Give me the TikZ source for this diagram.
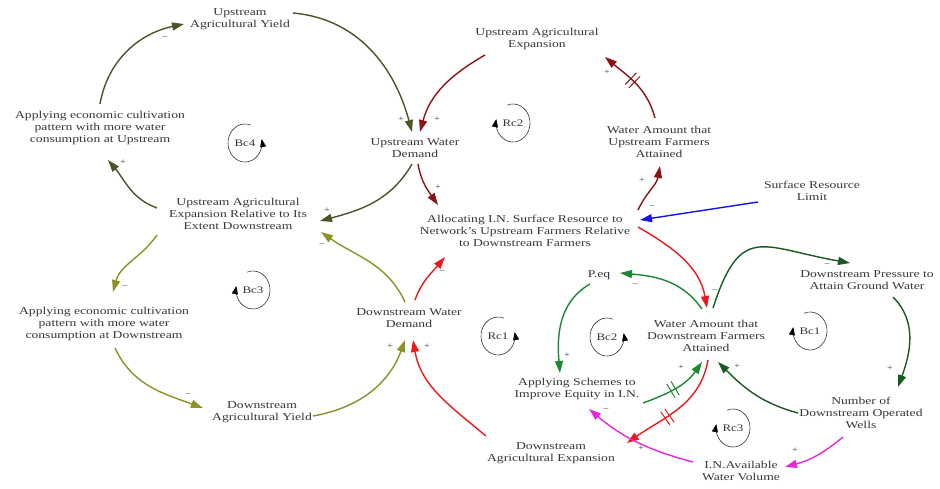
\documentclass[tikz,border=0pt]{standalone}
\usepackage{fontspec}
\setmainfont{Liberation Serif}[FakeStretch=1.3]
\usetikzlibrary{arrows.meta,decorations.markings}
\definecolor{txt}{RGB}{55,55,55}
\definecolor{olivedk}{RGB}{75,85,40}
\definecolor{olivelt}{RGB}{140,145,40}
\definecolor{redDk}{RGB}{140,20,20}
\definecolor{redLt}{RGB}{235,25,25}
\definecolor{grn}{RGB}{30,135,50}
\definecolor{grnDk}{RGB}{25,90,35}
\definecolor{mag}{RGB}{230,40,220}
\definecolor{blu}{RGB}{20,20,230}
\newcommand\lbfont{\fontsize{10.5}{12}\selectfont}
\newcommand\sgfont{\fontsize{8}{9}\selectfont}
\newcommand\lpfont{\fontsize{10}{11}\selectfont}
\tikzset{
  lbl/.style={align=center, font=\lbfont, text=txt, inner sep=1pt},
  lnk/.style={line width=1.4pt, -{Triangle[length=12pt,width=8pt]}},
  sgn/.style={font=\sgfont, text=txt, inner sep=0pt},
  looplbl/.style={font=\lpfont, text=txt, inner sep=0pt},
  loopring/.style={line width=0.6pt, draw=txt, -{Triangle[length=8pt,width=6pt,color=black]}},
  delay/.style n args={2}{postaction={decorate, decoration={markings,
      mark=at position #1 with {\draw[line width=1pt,draw=#2,-] (-2.5pt,-8pt) -- (-2.5pt,8pt) (2.5pt,-8pt) -- (2.5pt,8pt);}}}}
}
\begin{document}
\begin{tikzpicture}[x=1pt,y=1pt]
\fill[white] (0,0) rectangle (940,-488);
\useasboundingbox (0,0) rectangle (940,-488);

% variables
\node[lbl] (UAY)   at (240,-19)  {Upstream\\Agricultural Yield};
\node[lbl] (AEU)   at (100,-128) {Applying economic cultivation\\pattern with more water\\consumption at Upstream};
\node[lbl] (UWD)   at (415,-148) {Upstream Water\\Demand};
\node[lbl] (UAE)   at (537,-39)  {Upstream Agricultural\\Expansion};
\node[lbl] (WAU)   at (659,-142) {Water Amount that\\Upstream Farmers\\Attained};
\node[lbl] (SRL)   at (812,-191) {Surface Resource\\Limit};
\node[lbl] (ALLOC) at (525,-231) {Allocating I.N. Surface Resource to\\Network's Upstream Farmers Relative\\to Downstream Farmers};
\node[lbl] (UAER)  at (238,-214) {Upstream Agricultural\\Expansion Relative to Its\\Extent Downstream};
\node[lbl] (AED)   at (104,-324) {Applying economic cultivation\\pattern with more water\\consumption at Downstream};
\node[lbl] (DWD)   at (409,-318) {Downstream Water\\Demand};
\node[lbl] (DAY)   at (262,-412) {Downstream\\Agricultural Yield};
\node[lbl] (Peq)   at (599,-275) {P.eq};
\node[lbl] (WAD)   at (706,-336) {Water Amount that\\Downstream Farmers\\Attained};
\node[lbl] (DPG)   at (867,-280) {Downstream Pressure to\\Attain Ground Water};
\node[lbl] (NDW)   at (861,-413) {Number of\\Downstream Operated\\Wells};
\node[lbl] (ASE)   at (577,-389) {Applying Schemes to\\Improve Equity in I.N.};
\node[lbl] (DAE)   at (551,-453) {Downstream\\Agricultural Expansion};
\node[lbl] (INA)   at (741,-471) {I.N.Available\\Water Volume};

% loop Bc4 (upstream yield)
\draw[lnk, olivedk] ([shift={(0,24)}]AEU.center) to[out=80,in=192] ([shift={(-56,-5)}]UAY.center);
\draw[lnk, olivedk] ([shift={(53,6)}]UAY.center) to[out=-5,in=105] ([shift={(-3,16)}]UWD.center);
\draw[lnk, olivedk] ([shift={(-3,-16)}]UWD.center) to[out=-120,in=15] ([shift={(82,-7)}]UAER.center);
\draw[lnk, olivedk] ([shift={(-81,6)}]UAER.center) to[out=160,in=-50] ([shift={(8,-32)}]AEU.center);

% loop Rc2 (upstream expansion)
\draw[lnk, redDk] ([shift={(-52,-16)}]UAE.center) to[out=210,in=75] ([shift={(5,16)}]UWD.center);
\draw[lnk, redDk] ([shift={(3,-16)}]UWD.center) to[out=-80,in=125] ([shift={(-87,26)}]ALLOC.center);
\draw[lnk, redDk] ([shift={(113,21)}]ALLOC.center) to[out=65,in=-100] ([shift={(1,-24)}]WAU.center);
\draw[lnk, redDk, delay={0.55}{redDk}] ([shift={(-4,24)}]WAU.center) to[out=105,in=-40] ([shift={(68,-18)}]UAE.center);

% surface resource limit
\draw[lnk, blu] ([shift={(-54,-11)}]SRL.center) -- ([shift={(115,11)}]ALLOC.center);

% loop Bc3 (downstream yield)
\draw[lnk, olivelt] ([shift={(-4,16)}]DWD.center) to[out=115,in=-35] ([shift={(83,-18)}]UAER.center);
\draw[lnk, olivelt] ([shift={(-81,-21)}]UAER.center) to[out=-125,in=75] ([shift={(9,32)}]AED.center);
\draw[lnk, olivelt] ([shift={(11,-24)}]AED.center) to[out=-65,in=160] ([shift={(-59,4)}]DAY.center);
\draw[lnk, olivelt] ([shift={(51,-4)}]DAY.center) to[out=10,in=-110] ([shift={(-4,-22)}]DWD.center);

% loop Rc1 (downstream expansion)
\draw[lnk, redLt] ([shift={(113,4)}]ALLOC.center) to[out=-30,in=100] ([shift={(1,28)}]WAD.center);
\draw[lnk, redLt, delay={0.6}{redLt}] ([shift={(2,-24)}]WAD.center) to[out=-100,in=35] ([shift={(76,10)}]DAE.center);
\draw[lnk, redLt] ([shift={(-65,17)}]DAE.center) to[out=140,in=-80] ([shift={(4,-22)}]DWD.center);
\draw[lnk, redLt] ([shift={(6,18)}]DWD.center) to[out=70,in=-130] ([shift={(-80,-26)}]ALLOC.center);

% loop Bc2 (equity schemes)
\draw[lnk, grn] ([shift={(-4,27)}]WAD.center) to[out=125,in=-5] ([shift={(21,2)}]Peq.center);
\draw[lnk, grn] ([shift={(-9,-9)}]Peq.center) to[out=-150,in=95] ([shift={(-17,16)}]ASE.center);
\draw[lnk, grn, delay={0.45}{grn}] ([shift={(66,-14)}]ASE.center) to[out=20,in=-125] ([shift={(-4,-26)}]WAD.center);

% loop Bc1 (ground water)
\draw[lnk, grnDk] ([shift={(7,28)}]WAD.center) to[out=72,in=170,looseness=1.6] ([shift={(-17,17)}]DPG.center);
\draw[lnk, grnDk] ([shift={(26,-17)}]DPG.center) to[out=-45,in=70] ([shift={(37,26)}]NDW.center);
\draw[lnk, grnDk] ([shift={(-63,0)}]NDW.center) to[out=165,in=-45] ([shift={(12,-26)}]WAD.center);

% loop Rc3 (available volume)
\draw[lnk, mag] ([shift={(-18,-24)}]NDW.center) to[out=-140,in=15] ([shift={(44,4)}]INA.center);
\draw[lnk, mag] ([shift={(-48,9)}]INA.center) to[out=165,in=-40] ([shift={(12,-20)}]ASE.center);

% polarities
\node[sgn] (s1)  at (165,-38)  {−};
\node[sgn] (s2)  at (401,-119) {+};
\node[sgn] (s3)  at (437,-119) {+};
\node[sgn] (s4)  at (438,-187) {+};
\node[sgn] (s5)  at (327,-210) {+};
\node[sgn] (s6)  at (123,-162) {+};
\node[sgn] (s7)  at (642,-180) {+};
\node[sgn] (s8)  at (607,-72)  {+};
\node[sgn] (s9)  at (652,-207) {−};
\node[sgn] (s10) at (715,-291) {−};
\node[sgn] (s11) at (322,-245) {−};
\node[sgn] (s12) at (125,-287) {−};
\node[sgn] (s13) at (188,-395) {−};
\node[sgn] (s14) at (390,-346) {+};
\node[sgn] (s15) at (427,-346) {+};
\node[sgn] (s16) at (442,-272) {−};
\node[sgn] (s17) at (635,-285) {−};
\node[sgn] (s18) at (567,-355) {+};
\node[sgn] (s19) at (681,-367) {+};
\node[sgn] (s20) at (641,-448) {+};
\node[sgn] (s21) at (827,-265) {−};
\node[sgn] (s22) at (890,-368) {+};
\node[sgn] (s23) at (737,-366) {+};
\node[sgn] (s24) at (795,-450) {+};
\node[sgn] (s25) at (606,-410) {−};

% loop identifiers: counter-clockwise rings end on the right, clockwise ones on the left
\node[looplbl] (Bc4) at (245,-143) {Bc4};
\draw[loopring] ([shift={(70:17pt and 19pt)}]Bc4.center) arc[start angle=70,end angle=372,x radius=17pt,y radius=19pt];
\node[looplbl] (Rc2) at (513,-123) {Rc2};
\draw[loopring] ([shift={(110:17pt and 19pt)}]Rc2.center) arc[start angle=110,end angle=-192,x radius=17pt,y radius=19pt];
\node[looplbl] (Bc3) at (253,-290) {Bc3};
\draw[loopring] ([shift={(110:17pt and 19pt)}]Bc3.center) arc[start angle=110,end angle=-192,x radius=17pt,y radius=19pt];
\node[looplbl] (Rc1) at (498,-336) {Rc1};
\draw[loopring] ([shift={(70:17pt and 19pt)}]Rc1.center) arc[start angle=70,end angle=372,x radius=17pt,y radius=19pt];
\node[looplbl] (Bc2) at (607,-337) {Bc2};
\draw[loopring] ([shift={(70:17pt and 19pt)}]Bc2.center) arc[start angle=70,end angle=372,x radius=17pt,y radius=19pt];
\node[looplbl] (Bc1) at (810,-331) {Bc1};
\draw[loopring] ([shift={(110:17pt and 19pt)}]Bc1.center) arc[start angle=110,end angle=-192,x radius=17pt,y radius=19pt];
\node[looplbl] (Rc3) at (733,-428) {Rc3};
\draw[loopring] ([shift={(110:17pt and 19pt)}]Rc3.center) arc[start angle=110,end angle=-192,x radius=17pt,y radius=19pt];
\end{tikzpicture}
\end{document}
